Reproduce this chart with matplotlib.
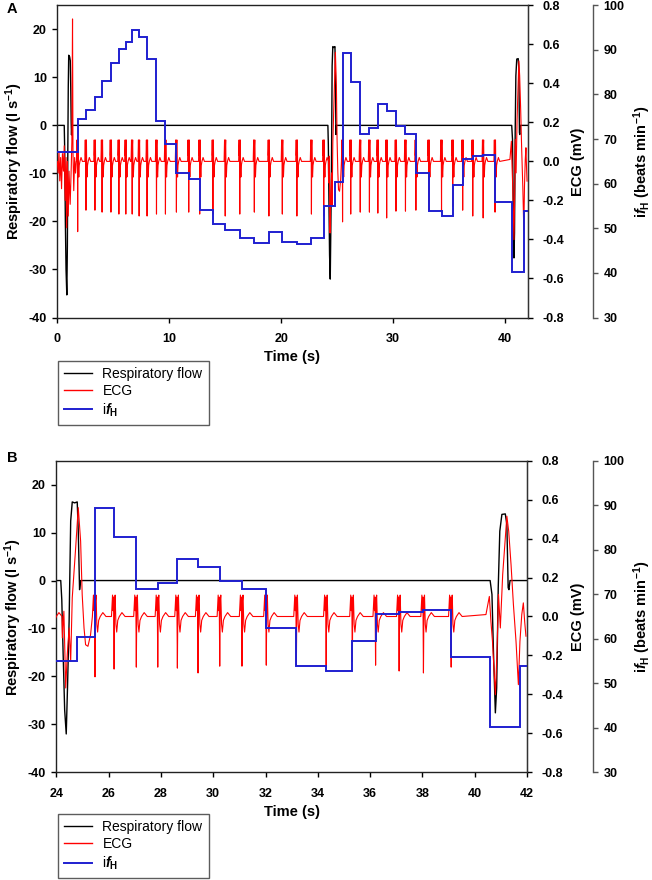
import matplotlib
matplotlib.use("Agg")
import matplotlib.pyplot as plt
from matplotlib.lines import Line2D

plt.rcParams['font.family'] = ['Liberation Sans', 'DejaVu Sans']
plt.rcParams['font.weight'] = 'bold'
plt.rcParams['mathtext.fontset'] = 'custom'
plt.rcParams['mathtext.rm'] = 'Liberation Sans'
plt.rcParams['mathtext.it'] = 'Liberation Sans:italic:bold'
plt.rcParams['mathtext.bf'] = 'Liberation Sans:bold'
plt.rcParams['axes.unicode_minus'] = False

# ---------------- data ----------------
# Respiratory flow (l s-1): breakpoints of the trace (baseline 0 elsewhere)
flow_t = [0, 0.62, 0.66, 0.72, 0.78, 0.85, 0.90, 0.94, 0.98, 1.02,
          1.10, 1.16, 1.20, 1.24, 1.27, 1.30,
          24.17, 24.21, 24.26, 24.32, 24.38, 24.43, 24.49, 24.55, 24.61, 24.70,
          24.80, 24.84, 24.88, 24.89, 24.93,
          40.59, 40.66, 40.72, 40.79, 40.84, 40.90, 40.96, 41.04, 41.17, 41.23,
          41.28, 41.31, 41.35, 42.0]
flow_v = [0, 0, -5, -20, -30, -35.3, -25, -5, 8, 14.6,
          14.3, 13.5, 8, 0.5, -2, 0,
          0, -4, -15, -27, -32, -22, -8.5, 12.4, 16.4, 16.2,
          16.4, 10.3, 0.5, -1.9, 0,
          0, -2.9, -15.4, -27.6, -22.4, -1.5, 10.3, 13.8, 13.9, 11.7,
          -1.5, -1.9, 0, 0]

# Instantaneous heart rate ifH (beats min-1): step edges (s) and levels
ifh_edges = [0, 1.82, 2.56, 3.36, 4.0, 4.79, 5.5, 6.12, 6.69, 7.31,
             8.02, 8.86, 9.66, 10.64, 11.74, 12.72, 13.9, 15.0, 16.3, 17.6,
             18.9, 20.1, 21.4, 22.7, 23.8, 24.80, 25.48, 26.21, 27.06, 27.88,
             28.63, 29.42, 30.25, 31.10, 32.03, 33.18, 34.32, 35.32, 36.21, 37.11,
             38.04, 39.10, 40.59, 41.72, 42.0]
ifh_bpm = [67.1, 74.4, 76.6, 79.4, 83.0, 87.0, 90.2, 91.8, 94.4, 93.0,
           87.9, 74.0, 68.8, 62.4, 61.0, 54.1, 50.9, 49.6, 47.8, 46.7,
           49.2, 47.0, 46.5, 47.9, 55.0, 60.3, 89.3, 82.8, 71.2, 72.5,
           77.9, 76.2, 72.9, 71.2, 62.5, 53.9, 52.8, 59.6, 65.6, 66.1,
           66.5, 55.8, 40.1, 53.9]

# ECG (mV): R-wave times and R-wave depths
beat_t = [1.82, 2.56, 3.36, 4.0, 4.79, 5.5, 6.12, 6.69, 7.31, 8.02,
          8.86, 9.66, 10.64, 11.74, 12.72, 13.9, 15.0, 16.3, 17.6, 18.9,
          20.1, 21.4, 22.7, 23.8, 25.48, 26.21, 27.06, 27.88, 28.63, 29.42,
          30.25, 31.10, 32.03, 33.18, 34.32, 35.32, 36.21, 37.11, 38.04, 39.10]
beat_r = [-0.36, -0.25, -0.25, -0.26, -0.26, -0.27, -0.27, -0.27, -0.28, -0.28,
          -0.27, -0.27, -0.26, -0.26, -0.27, -0.27, -0.28, -0.27, -0.26, -0.28,
          -0.27, -0.28, -0.27, -0.28, -0.31, -0.27, -0.26, -0.26, -0.265, -0.29,
          -0.255, -0.255, -0.25, -0.25, -0.26, -0.23, -0.25, -0.28, -0.29, -0.26]
# shape of one beat around the R wave (None = R depth)
beat_dt = [-0.10, -0.06, -0.04, -0.02, 0.0, 0.02, 0.04, 0.07, 0.10, 0.14, 0.20, 0.30, 0.42]
beat_mv = [0.0, 0.11, 0.03, 0.10, None, 0.08, 0.11, -0.04, -0.08, -0.02, 0.0, 0.02, 0.0]
# ECG segments disturbed by breaths
art_t = [0.0, 0.08, 0.15, 0.22, 0.30, 0.38, 0.46, 0.55, 0.62, 0.70,
         0.78, 0.84, 0.90, 0.98, 1.05, 1.15, 1.25, 1.30, 1.36, 1.40,
         1.47, 1.55, 1.63, 1.70,
         24.23, 24.29, 24.36, 24.42, 24.49, 24.55, 24.61, 24.74, 24.84, 24.93,
         24.99, 25.06, 25.12, 25.21, 25.31, 25.38,
         40.43, 40.56, 40.62, 40.68, 40.79, 40.85, 40.91, 40.98, 41.07, 41.17,
         41.23, 41.30, 41.39, 41.48, 41.58, 41.67, 41.73, 41.80, 41.86, 41.91, 41.96]
art_mv = [0.0, -0.06, 0.05, -0.10, 0.02, -0.14, 0.04, -0.05, 0.08, -0.20,
          0.02, -0.34, 0.0, -0.28, -0.05, -0.22, -0.02, 0.10, 0.73, 0.05,
          -0.15, 0.02, -0.06, 0.0,
          -0.11, 0.027, -0.367, -0.194, -0.059, -0.229, 0.096, 0.352, 0.559, 0.387,
          0.113, -0.059, -0.145, -0.153, -0.094, 0.0,
          0.010, 0.103, -0.025, -0.128, -0.401, -0.194, 0.113, -0.059, 0.215, 0.404,
          0.515, 0.438, 0.266, 0.062, -0.128, -0.350, -0.128, 0.010, 0.070, -0.025, -0.101]

flow_yticks = [-40, -30, -20, -10, 0, 10, 20]
ecg_yticks = [-0.8, -0.6, -0.4, -0.2, 0.0, 0.2, 0.4, 0.6, 0.8]
ifh_yticks = [30, 40, 50, 60, 70, 80, 90, 100]
xticks_A = [0, 10, 20, 30, 40]
xticks_B = [24, 26, 28, 30, 32, 34, 36, 38, 40, 42]

# build the ECG trace from the read values
pts = list(zip(art_t, art_mv))
for tb, r in zip(beat_t, beat_r):
    for dt, v in zip(beat_dt, beat_mv):
        pts.append((tb + dt, r if v is None else v))
pts.sort()
ecg_t = [p[0] for p in pts]
ecg_v = [p[1] for p in pts]

# ---------------- figure ----------------
fig = plt.figure(figsize=(6.52, 8.8), dpi=100)

C_FLOW = 'black'
C_ECG = '#ff0000'
C_IFH = '#1f1fd0'
TICK_FS = 9
LAB_FS = 10.5


def draw_panel(rect, xlim, xticks, letter, letter_y, legend_top):
    ax = fig.add_axes(rect)
    ax2 = ax.twinx()
    ax3 = ax.twinx()
    for s in ax.spines.values():
        s.set_linewidth(1.0)
        s.set_color('#222222')
    for k in ('left', 'top', 'bottom'):
        ax2.spines[k].set_visible(False)
        ax3.spines[k].set_visible(False)
    ax2.spines['right'].set_color('#333333')
    ax3.spines['right'].set_position(('axes', 1.14))
    ax3.spines['right'].set_color('#555555')
    ax3.spines['right'].set_linewidth(1.0)

    ax.plot(flow_t, flow_v, color=C_FLOW, lw=1.0)
    ax2.plot(ecg_t, ecg_v, color=C_ECG, lw=0.8)
    ax3.stairs(ifh_bpm, ifh_edges, baseline=None, color=C_IFH, lw=1.4)

    ax.set_xlim(*xlim)
    ax.set_ylim(-40, 25)
    ax2.set_ylim(-0.8, 0.8)
    ax3.set_ylim(30, 100)

    for a in (ax, ax2, ax3):
        a.tick_params(direction='out', length=3.5, width=1.0, labelsize=TICK_FS)
    ax.tick_params(axis='y', pad=4)
    ax.tick_params(axis='x', pad=8)
    ax2.tick_params(axis='y', pad=7)
    ax3.tick_params(axis='y', pad=4, color='#555555')

    ax.set_xticks(xticks, labels=[str(v) for v in xticks])
    ax.set_yticks(flow_yticks, labels=[str(v) for v in flow_yticks])
    ax2.set_yticks(ecg_yticks, labels=['%.1f' % v for v in ecg_yticks])
    ax3.set_yticks(ifh_yticks, labels=[str(v) for v in ifh_yticks])

    ax.set_ylabel(r'Respiratory flow (l s$^{\mathbf{-1}}$)', fontsize=LAB_FS, fontweight='bold')
    ax.yaxis.set_label_coords(-0.069, 0.5)
    ax.set_xlabel('Time (s)', fontsize=LAB_FS, fontweight='bold')
    ax.xaxis.set_label_coords(0.5, -0.105)
    ax2.set_ylabel('ECG (mV)', fontsize=LAB_FS, fontweight='bold')
    ax2.yaxis.set_label_coords(1.093, 0.5)
    ax3.set_ylabel(r'i$\mathit{f}_{\mathbf{H}}$ (beats min$^{\mathbf{-1}}$)',
                   fontsize=LAB_FS, fontweight='bold')
    ax3.yaxis.set_label_coords(1.221, 0.5)

    fig.text(7 / 652, 1 - letter_y / 880, letter, fontsize=10.5,
             fontweight='bold', va='top', ha='left')

    handles = [Line2D([], [], color=C_FLOW, lw=1.0),
               Line2D([], [], color=C_ECG, lw=1.0),
               Line2D([], [], color=C_IFH, lw=1.4)]
    labels = ['Respiratory flow', 'ECG', r'i$\mathit{f}$$_{\mathrm{H}}$']
    leg = fig.legend(handles, labels, loc='upper left',
                     bbox_to_anchor=(58 / 652, 1 - legend_top / 880),
                     frameon=True, fancybox=False, edgecolor='#333333',
                     prop={'size': 10, 'weight': 'normal'},
                     handlelength=2.0, handletextpad=0.75,
                     labelspacing=0.22, borderpad=0.45, borderaxespad=0.0)
    leg.get_frame().set_linewidth(1.0)
    return ax


rectA = [57.3 / 652, 1 - 317.5 / 880, 470.2 / 652, 312.2 / 880]
rectB = [56.3 / 652, 1 - 772.3 / 880, 470.7 / 652, 311.6 / 880]

draw_panel(rectA, (0, 42), xticks_A, 'A', 2, 361)
draw_panel(rectB, (24, 42), xticks_B, 'B', 451, 814)

fig.savefig('out.png', dpi=100)
